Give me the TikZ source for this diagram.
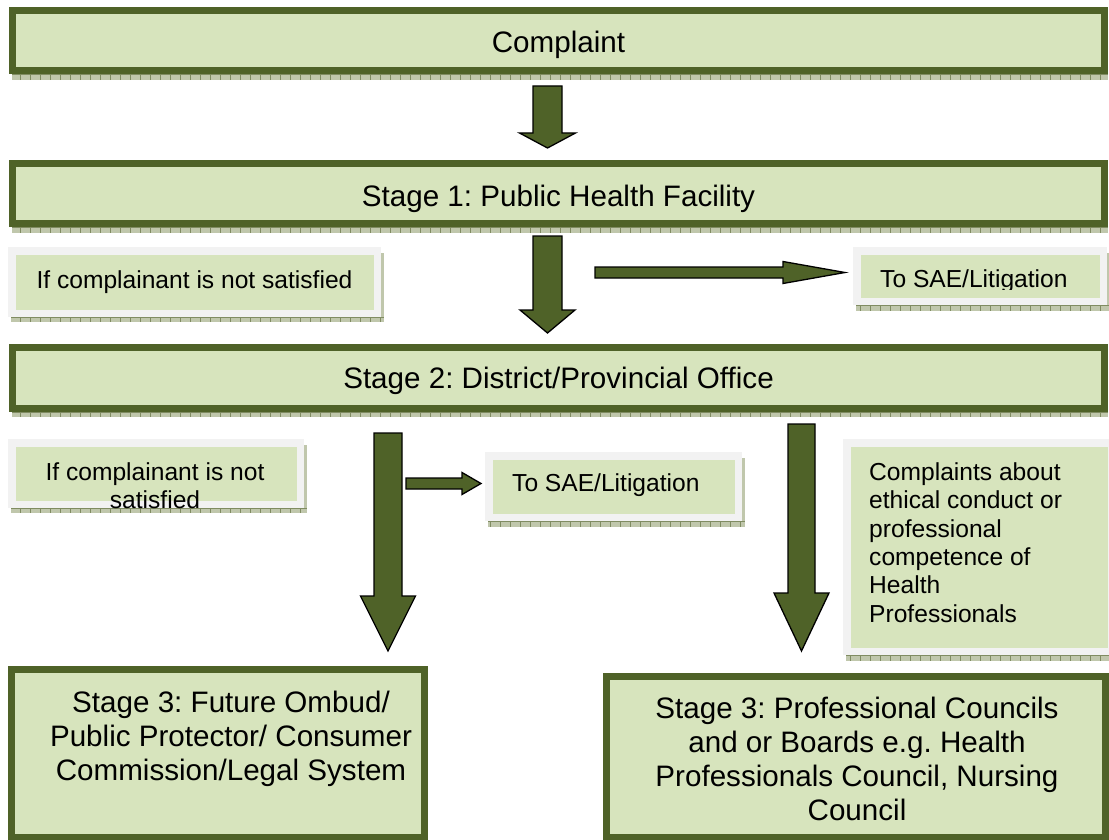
\documentclass[tikz,border=0pt]{standalone}
\usepackage{fontspec}
\setmainfont{Liberation Sans}
\usetikzlibrary{calc}
\frenchspacing

\definecolor{boxedge}{RGB}{79,98,40}
\definecolor{boxfill}{RGB}{215,228,189}
\definecolor{framegray}{RGB}{242,242,242}
\definecolor{stripbase}{RGB}{192,199,172}
\definecolor{stripdark}{RGB}{128,140,98}

\newcommand{\stagefont}{\fontsize{29.6pt}{34pt}\selectfont}
\newcommand{\notefont}{\fontsize{24.6pt}{28.3pt}\selectfont}

% patterned shadow band under a box
\newcommand{\shadowband}[4]{%
  \begin{scope}
    \clip (#1,#3) rectangle (#2,#4);
    \fill[stripbase] (#1,#3) rectangle (#2,#4);
    \draw[stripdark, line width=0.7pt] (#1,#3) -- (#2,#3);
    \foreach \t in {0,10,...,1120} \draw[stripdark, line width=0.6pt] (\t,#3) -- (\t,#4);
  \end{scope}}

% block arrow pointing down: start, tip, shaft half width, head half width, head length
\newcommand{\blkdown}[5]{%
  \draw[blkarrow] let \p1=(#1), \p2=(#2) in
    (\x1-#3,\y1) -- (\x1+#3,\y1) -- (\x1+#3,\y2+#5) -- (\x1+#4,\y2+#5)
    -- (\x1,\y2) -- (\x1-#4,\y2+#5) -- (\x1-#3,\y2+#5) -- cycle;}

% block arrow pointing right: start, tip, shaft half height, head half height, head length
\newcommand{\blkright}[5]{%
  \draw[blkarrow] let \p1=(#1), \p2=(#2) in
    (\x1,\y1+#3) -- (\x2-#5,\y1+#3) -- (\x2-#5,\y1+#4) -- (\x2,\y1)
    -- (\x2-#5,\y1-#4) -- (\x2-#5,\y1-#3) -- (\x1,\y1-#3) -- cycle;}

\begin{document}
\begin{tikzpicture}[x=1pt,y=-1pt,
  bigbox/.style={draw=boxedge, line width=7pt, fill=boxfill, inner sep=0pt,
    text height=22pt, text depth=0pt, font=\stagefont},
  smallbox/.style={draw=framegray, line width=7.5pt, fill=boxfill, inner sep=0pt, font=\notefont},
  boxtext/.style={inner sep=0pt, align=center, font=\stagefont},
  notetext/.style={inner sep=0pt, font=\notefont},
  blkarrow/.style={draw=black, line width=1.3pt, fill=boxedge, line join=miter}]

\useasboundingbox (0,0) rectangle (1109,840);

% shadow bands of the stage bars
\shadowband{12}{1108}{74}{80}
\shadowband{12}{1108}{227}{233}
\shadowband{12}{1108}{412}{417}

% stage bars
\node[bigbox, minimum width=1092pt, minimum height=60pt, text height=25pt] (complaint) at (558.5,40.5) {Complaint};
\node[bigbox, minimum width=1092pt, minimum height=60pt, text height=26pt] (stage1) at (558.5,193.5) {Stage 1: Public Health Facility};
\node[bigbox, minimum width=1092pt, minimum height=61pt, text height=20pt] (stage2) at (558.5,378) {Stage 2: District/Provincial Office};

% shadows of the note boxes
\fill[stripbase] (11,253) rectangle (384,322);
\shadowband{11}{384}{317}{322}
\fill[stripbase] (856,253) rectangle (1110,311);
\shadowband{856}{1110}{305}{311}
\fill[stripbase] (11,445) rectangle (307,513);
\shadowband{11}{307}{508}{513}
\fill[stripbase] (488,458) rectangle (745,527);
\shadowband{488}{745}{521}{527}
\fill[stripbase] (846,445) rectangle (1118,661);
\shadowband{846}{1118}{655}{661}

% note boxes
\node[smallbox, minimum width=365.5pt, minimum height=62.5pt] (note1) at (194.5,282) {If complainant is not satisfied};
\node[smallbox, minimum width=246.5pt, minimum height=50.5pt] (sae1) at (980,276) {};
\begin{scope}
  \clip (860,255) rectangle (1100,289);
  \node[notetext, anchor=base west] (sae1text) at (880,287.5) {To SAE/Litigation};
\end{scope}
\node[smallbox, minimum width=288.5pt, minimum height=61.5pt] (note2) at (156,473.5) {};
\node[notetext, align=center, anchor=north] (note2text) at (155,462) {If complainant is not\\satisfied};
\node[smallbox, minimum width=249.5pt, minimum height=61.5pt] (sae2) at (613.5,486.5) {};
\node[notetext, anchor=base west] (sae2text) at (512,491) {To SAE/Litigation};
\node[smallbox, minimum width=264.5pt, minimum height=208.5pt] (ethics) at (979,547) {};
\node[notetext, align=left, anchor=north west] (ethicstext) at (869,462.5)
  {Complaints about\\ethical conduct or\\professional\\competence of\\Health\\Professionals};

% stage 3 boxes
\node[bigbox, minimum width=413pt, minimum height=168pt] (ombud) at (218,753.5) {};
\node[boxtext, anchor=north] (ombudtext) at (231,691)
  {Stage 3: Future Ombud/\\Public Protector/ Consumer\\Commission/Legal System};
\node[bigbox, minimum width=499pt, minimum height=161pt] (councils) at (856,757) {};
\node[boxtext, anchor=north] (councilstext) at (857,697)
  {Stage 3: Professional Councils\\and or Boards e.g. Health\\Professionals Council, Nursing\\Council};

% arrow end points
\coordinate (a1s) at (547.5,86);   \coordinate (a1t) at (547.5,148);
\coordinate (a2s) at (547.5,236);  \coordinate (a2t) at (547.5,333);
\coordinate (a3s) at (388,433);    \coordinate (a3t) at (388,651);
\coordinate (a4s) at (801.5,424);  \coordinate (a4t) at (801.5,651);
\coordinate (h1s) at (595,272.5);  \coordinate (h1t) at (845,272.5);
\coordinate (h2s) at (406,483.5);  \coordinate (h2t) at (481,483.5);

% block arrows
\blkdown{a1s}{a1t}{14.5pt}{28pt}{15pt}
\blkdown{a2s}{a2t}{14.5pt}{27.5pt}{23pt}
\blkdown{a3s}{a3t}{14pt}{27.5pt}{55pt}
\blkdown{a4s}{a4t}{13.5pt}{27.5pt}{58pt}
\blkright{h1s}{h1t}{5.5pt}{11pt}{62pt}
\blkright{h2s}{h2t}{5.5pt}{11pt}{19pt}
\end{tikzpicture}
\end{document}
